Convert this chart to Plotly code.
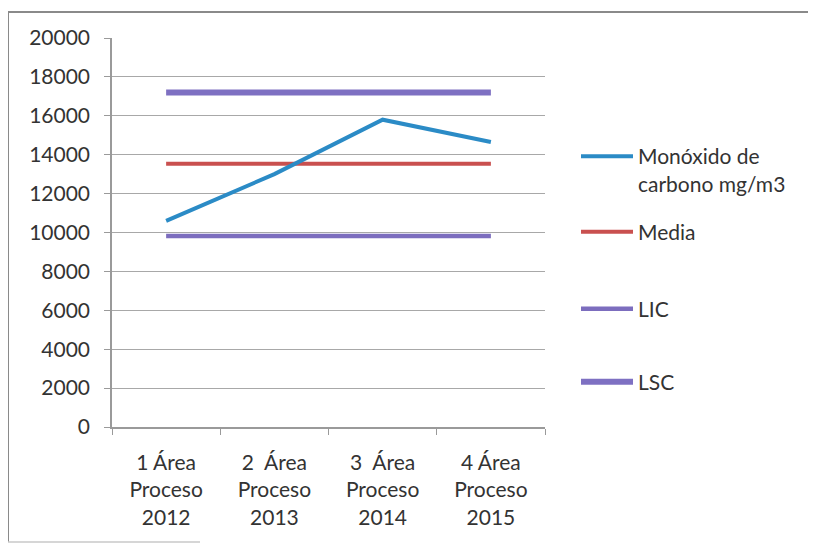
import plotly.graph_objects as go

categories = ["1 Área<br>Proceso<br>2012", "2  Área<br>Proceso<br>2013", "3  Área<br>Proceso<br>2014", "4 Área<br>Proceso<br>2015"]
monoxido = [10600, 13000, 15800, 14650]
media = [13530, 13530, 13530, 13530]
lic = [9820, 9820, 9820, 9820]
lsc = [17200, 17200, 17200, 17200]
y_ticks = [0, 2000, 4000, 6000, 8000, 10000, 12000, 14000, 16000, 18000, 20000]

FONT = "Lato"
TXT = "#333333"
OFF = 8  # page body margin
W, H = 816 - OFF, 547 - OFF
L, R, T, B = 112, 545, 38, 427  # plot area in reference page pixels

def py(p):
    return (B - p) / (B - T)

def px(p):
    return (p - L) / (R - L)

fig = go.Figure()
fig.add_trace(go.Scatter(x=categories, y=lic, mode="lines", name="LIC",
                         line=dict(color="#7C6DBE", width=4.5), legend="legend3"))
fig.add_trace(go.Scatter(x=categories, y=lsc, mode="lines", name="LSC",
                         line=dict(color="#7E70C2", width=6), legend="legend4"))
fig.add_trace(go.Scatter(x=categories, y=media, mode="lines", name="Media",
                         line=dict(color="#C9504F", width=4), legend="legend2"))
fig.add_trace(go.Scatter(x=categories, y=monoxido, mode="lines", name="Monóxido de<br>carbono mg/m3",
                         line=dict(color="#2B8BC6", width=4), legend="legend"))

legfont = dict(family=FONT, size=21, color=TXT)
def leg(ycenter, anchor="middle"):
    return dict(x=px(576), xanchor="left", y=py(ycenter), yanchor=anchor,
                font=legfont, bgcolor="rgba(0,0,0,0)", itemwidth=52, valign="top")

bx0, bx1, by_top, by_bot = px(8), px(850), py(12), py(542)

fig.update_layout(
    width=W, height=H,
    margin=dict(l=L - OFF, r=816 - R, t=T - OFF, b=547 - B),
    paper_bgcolor="white", plot_bgcolor="white",
    font=dict(family=FONT, size=21, color=TXT),
    showlegend=True,
    legend=leg(136, "top"),
    legend2=leg(232),
    legend3=leg(309),
    legend4=leg(382),
    xaxis=dict(type="category", range=[-0.5, 3.5], showgrid=False,
               showline=True, linecolor="#9A9A9A", linewidth=1.5,
               ticks="outside", tickson="boundaries", ticklen=6, tickcolor="#9A9A9A",
               ticklabelstandoff=16,
               tickfont=dict(family=FONT, size=21, color=TXT)),
    yaxis=dict(range=[0, 20000], tickvals=y_ticks, ticktext=[str(v) for v in y_ticks],
               showgrid=True, gridcolor="#A8A8A8", gridwidth=1.2,
               showline=True, linecolor="#9A9A9A", linewidth=1.5,
               ticks="outside", ticklen=6, tickcolor="#9A9A9A",
               ticklabelstandoff=10,
               tickfont=dict(family=FONT, size=21, color=TXT), zeroline=False),
    shapes=[
        dict(type="path", xref="paper", yref="paper",
             path=f"M {bx0},{by_bot} L {bx0},{by_top} L {bx1},{by_top}",
             line=dict(color="#8A8A8A", width=2), layer="below"),
        dict(type="line", xref="paper", yref="paper",
             x0=bx0, x1=px(200), y0=by_bot, y1=by_bot,
             line=dict(color="#C8C8C8", width=1.5), layer="below"),
    ],
)

fig.write_html("out.html")
